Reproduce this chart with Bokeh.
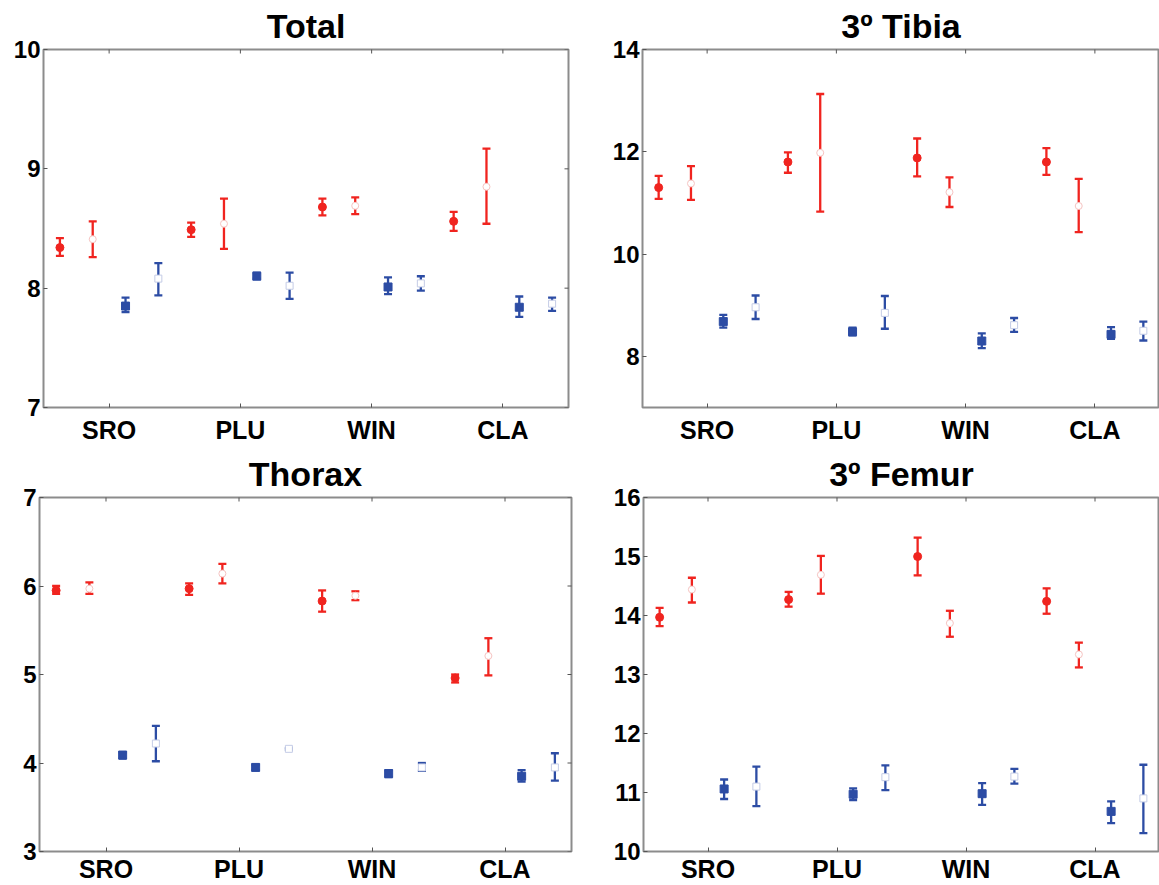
from bokeh.plotting import figure
from bokeh.models import ColumnDataSource, Whisker, TeeHead, FixedTicker, Range1d
from bokeh.layouts import column, row
from bokeh.embed import file_html
from bokeh.resources import INLINE

groups = ["SRO", "PLU", "WIN", "CLA"]
# series order within each group: red filled, red open, blue filled, blue open
series_offsets = [-0.375, -0.125, 0.125, 0.375]

total_mean = [8.34, 8.41, 7.85, 8.08, 8.49, 8.54, 8.10, 8.02, 8.68, 8.69, 8.01, 8.04, 8.56, 8.85, 7.84, 7.87]
total_low = [8.27, 8.26, 7.80, 7.94, 8.43, 8.33, 8.08, 7.91, 8.61, 8.62, 7.95, 7.98, 8.48, 8.54, 7.76, 7.81]
total_high = [8.42, 8.56, 7.92, 8.21, 8.55, 8.75, 8.13, 8.13, 8.75, 8.76, 8.09, 8.10, 8.64, 9.17, 7.93, 7.92]

tibia_mean = [11.30, 11.38, 8.68, 8.96, 11.80, 11.98, 8.48, 8.85, 11.88, 11.21, 8.30, 8.61, 11.80, 10.94, 8.43, 8.50]
tibia_low = [11.08, 11.06, 8.56, 8.73, 11.59, 10.83, 8.41, 8.54, 11.52, 10.92, 8.16, 8.48, 11.55, 10.43, 8.34, 8.31]
tibia_high = [11.53, 11.72, 8.81, 9.19, 11.99, 13.13, 8.56, 9.18, 12.26, 11.50, 8.45, 8.75, 12.07, 11.47, 8.57, 8.68]

thorax_mean = [5.95, 5.97, 4.09, 4.22, 5.97, 6.14, 3.95, 4.16, 5.83, 5.89, 3.88, 3.95, 4.96, 5.21, 3.85, 3.95]
thorax_low = [5.91, 5.91, 4.05, 4.02, 5.90, 6.03, 3.92, 4.15, 5.71, 5.84, 3.84, 3.91, 4.91, 4.99, 3.79, 3.80]
thorax_high = [6.00, 6.04, 4.12, 4.42, 6.03, 6.25, 3.98, 4.17, 5.95, 5.94, 3.92, 4.00, 5.00, 5.41, 3.92, 4.11]

femur_mean = [13.97, 14.44, 11.06, 11.10, 14.27, 14.69, 10.97, 11.26, 15.00, 13.87, 10.98, 11.27, 14.24, 13.34, 10.68, 10.90]
femur_low = [13.82, 14.22, 10.89, 10.77, 14.15, 14.37, 10.87, 11.04, 14.68, 13.64, 10.79, 11.15, 14.03, 13.12, 10.48, 10.31]
femur_high = [14.13, 14.64, 11.22, 11.44, 14.40, 15.01, 11.07, 11.46, 15.32, 14.08, 11.16, 11.40, 14.46, 13.54, 10.85, 11.47]

RED = "#f0241f"
BLUE = "#2c4ca4"
FONT = "Liberation Sans"
TICK = "#555555"
series_colors = [RED, RED, BLUE, BLUE]
series_filled = [True, False, True, False]
series_marker = ["circle", "circle", "square", "square"]


def make_panel(title, mean, low, high, yrange, yticks, width, height,
               bl, br, bt, bb, title_offset, x_standoff, right_ticks):
    p = figure(width=width, height=height, x_range=Range1d(0.5, 4.5),
               y_range=Range1d(*yrange), output_backend="svg", toolbar_location=None,
               min_border_left=bl, min_border_right=br, min_border_top=bt,
               min_border_bottom=bb)
    p.title.text = title
    p.title.text_font = FONT
    p.title.text_font_size = "34px"
    p.title.text_font_style = "bold"
    p.title.text_color = "black"
    p.title.align = "center"
    p.title.vertical_align = "top"
    p.title.offset = title_offset
    p.title.standoff = 6
    p.grid.visible = False
    p.outline_line_color = "#8c8c8c"
    p.outline_line_width = 2
    p.background_fill_color = "white"
    p.border_fill_color = "white"

    xa = p.xaxis[0]
    xa.ticker = FixedTicker(ticks=[1, 2, 3, 4])
    xa.major_label_overrides = {i + 1: g for i, g in enumerate(groups)}
    ya = p.yaxis[0]
    ya.ticker = FixedTicker(ticks=yticks)
    for ax in (xa, ya):
        ax.axis_line_color = None
        ax.major_tick_in = 4
        ax.major_tick_out = 0
        ax.major_tick_line_color = TICK
        ax.minor_tick_line_color = None
        ax.major_label_text_font = FONT
        ax.major_label_text_font_style = "bold"
        ax.major_label_text_color = "black"
    xa.major_label_text_font_size = "25px"
    ya.major_label_text_font_size = "24px"
    xa.major_label_standoff = x_standoff
    ya.major_label_standoff = 3

    # mirrored inside ticks on the top edge (and right edge), half clipped by the frame
    cat_pos = [i + 1 for i in range(len(groups))]
    p.scatter(cat_pos, [yrange[1]] * len(cat_pos), marker="dash", angle=1.5708,
              size=8, line_color=TICK, line_width=1)
    if right_ticks:
        p.scatter([4.5] * len(yticks), yticks, marker="dash", size=8,
                  line_color=TICK, line_width=1)

    for s in range(4):
        idx = [g * 4 + s for g in range(4)]
        src = ColumnDataSource(dict(
            x=[g + 1 + series_offsets[s] for g in range(4)],
            m=[mean[i] for i in idx],
            lo=[low[i] for i in idx],
            hi=[high[i] for i in idx],
        ))
        col = series_colors[s]
        w = Whisker(source=src, base="x", upper="hi", lower="lo", dimension="height",
                    line_color=col, line_width=2.3, level="underlay",
                    upper_head=TeeHead(size=8, line_color=col, line_width=2.3),
                    lower_head=TeeHead(size=8, line_color=col, line_width=2.3))
        p.add_layout(w)
        if series_filled[s]:
            p.scatter("x", "m", source=src, marker=series_marker[s], size=8,
                      fill_color=col, line_color=col, line_width=1)
        else:
            pale = "#f6c4c2" if col == RED else "#c4cce6"
            p.scatter("x", "m", source=src, marker=series_marker[s], size=7,
                      fill_color="white", line_color=pale, line_width=1)
    return p


p_total = make_panel("Total", total_mean, total_low, total_high, (7, 10), [7, 8, 9, 10],
                     600, 450, 43, 32, 49, 43, -17, 8, True)
p_tibia = make_panel("3º Tibia", tibia_mean, tibia_low, tibia_high, (7, 14), [8, 10, 12, 14],
                     559, 450, 42, 0, 49, 43, -19, 8, False)
p_thorax = make_panel("Thorax", thorax_mean, thorax_low, thorax_high, (3, 7), [3, 4, 5, 6, 7],
                      600, 435, 39, 29, 47, 32, -9, 3, True)
p_femur = make_panel("3º Femur", femur_mean, femur_low, femur_high, (10, 16),
                     [10, 11, 12, 13, 14, 15, 16], 559, 435, 43, 0, 47, 32, -11, 3, False)

layout = column(row(p_total, p_tibia), row(p_thorax, p_femur))
open("out.html", "w").write(file_html(layout, INLINE))
